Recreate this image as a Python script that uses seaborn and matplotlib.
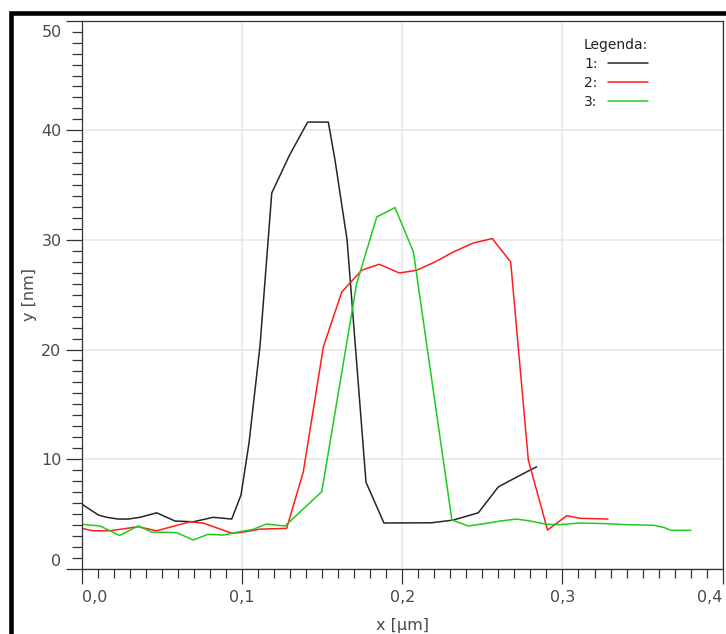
import matplotlib
matplotlib.use("Agg")
import numpy as np
import pandas as pd
import seaborn as sns
import matplotlib.pyplot as plt
from matplotlib.ticker import MultipleLocator
from matplotlib.lines import Line2D
from matplotlib.patches import Rectangle
import matplotlib.transforms as mtransforms

# ---------------- data ----------------
series_names = ["1:", "2:", "3:"]
series_colors = ["#262626", "#ff1c1c", "#1ecb1e"]

x1 = [0.0, 0.0104, 0.0156, 0.0228, 0.0291, 0.0364, 0.0468, 0.0582, 0.0696, 0.0821,
      0.0936, 0.0994, 0.1044, 0.1113, 0.1186, 0.1296, 0.1410, 0.1539, 0.1581, 0.1656,
      0.1774, 0.1886, 0.2184, 0.2319, 0.2475, 0.2600, 0.2777, 0.2839]
y1 = [5.90, 4.90, 4.69, 4.53, 4.53, 4.69, 5.10, 4.35, 4.28, 4.69,
      4.53, 6.72, 11.46, 20.39, 34.28, 37.71, 40.75, 40.75, 37.26, 30.0,
      7.90, 4.17, 4.19, 4.44, 5.10, 7.47, 8.84, 9.30]

x2 = [0.0, 0.0072, 0.0177, 0.0353, 0.0468, 0.0676, 0.0759, 0.0936, 0.0988, 0.1113,
      0.1279, 0.1383, 0.1508, 0.1623, 0.1747, 0.1857, 0.1982, 0.2091, 0.2205, 0.2319,
      0.2444, 0.2562, 0.2677, 0.2787, 0.2907, 0.3027, 0.3110, 0.3284]
y2 = [3.68, 3.46, 3.46, 3.83, 3.46, 4.28, 4.16, 3.24, 3.29, 3.61,
      3.68, 8.84, 20.24, 25.25, 27.23, 27.78, 26.98, 27.23, 27.99, 28.90,
      29.72, 30.12, 27.99, 9.91, 3.53, 4.83, 4.60, 4.53]

x3 = [0.0, 0.0114, 0.0236, 0.0353, 0.0436, 0.0593, 0.0696, 0.0788, 0.0884, 0.0967,
      0.1071, 0.1113, 0.1154, 0.1269, 0.1498, 0.1716, 0.1841, 0.1955, 0.2070, 0.2310,
      0.2413, 0.2528, 0.2611, 0.2715, 0.2798, 0.2902, 0.2985, 0.3110, 0.3272, 0.3397,
      0.3573, 0.3636, 0.3677, 0.3802]
y3 = [4.05, 3.90, 3.03, 3.90, 3.35, 3.29, 2.62, 3.14, 3.07, 3.32,
      3.59, 3.85, 4.07, 3.90, 7.03, 26.02, 32.09, 32.95, 28.90, 4.44,
      3.90, 4.14, 4.35, 4.53, 4.35, 4.05, 4.02, 4.17, 4.11, 4.02,
      3.96, 3.75, 3.50, 3.50]

x_ticks = [0.0, 0.1, 0.2, 0.3, 0.4]
x_tick_labels = ["0,0", "0,1", "0,2", "0,3", "0,4"]
y_ticks = [0, 10, 20, 30, 40, 50]
y_tick_labels = ["0", "10", "20", "30", "40", "50"]

# ---------------- figure ----------------
sns.set_theme(style="white")
plt.rcParams["font.family"] = ["DejaVu Sans"]

W, H = 726, 634
fig = plt.figure(figsize=(W / 100, H / 100), dpi=100, facecolor="white")
L, R, T, B = 81.7, 722.7, 20.7, 568.7
ax = fig.add_axes([L / W, 1 - B / H, (R - L) / W, (B - T) / H])
ax.set_facecolor("white")

df = pd.concat([
    pd.DataFrame({"x": x1, "y": y1, "series": series_names[0]}),
    pd.DataFrame({"x": x2, "y": y2, "series": series_names[1]}),
    pd.DataFrame({"x": x3, "y": y3, "series": series_names[2]}),
], ignore_index=True)

sns.lineplot(data=df, x="x", y="y", hue="series",
             palette=dict(zip(series_names, series_colors)),
             estimator=None, sort=False, lw=1.1, ax=ax, legend=False)

ax.set_xlim(0, 0.4)
ax.set_ylim(0, 50)
ax.set_xticks(x_ticks)
ax.set_xticklabels(x_tick_labels)
ax.set_yticks(y_ticks)
ax.set_yticklabels(y_tick_labels)
ax.xaxis.set_minor_locator(MultipleLocator(0.01))
ax.yaxis.set_minor_locator(MultipleLocator(1))

spine_c = "#333333"
for s in ax.spines.values():
    s.set_visible(True)
    s.set_color(spine_c)
    s.set_linewidth(0.9)

ax.tick_params(axis="both", which="both", direction="out", color=spine_c,
               width=0.9, bottom=True, left=True, top=False, right=False)
ax.tick_params(axis="x", which="major", length=11, pad=4,
               labelsize=11.5, labelcolor="#4a4a4a")
ax.tick_params(axis="x", which="minor", length=6.5)
ax.tick_params(axis="y", which="major", length=11.5, pad=3,
               labelsize=11.5, labelcolor="#4a4a4a")
ax.tick_params(axis="y", which="minor", length=7)

ax.grid(True, which="major", color="#e6e6e6", lw=1.1)
ax.set_axisbelow(True)

ax.set_xlabel("x [µm]", fontsize=11.5, color="#4a4a4a")
ax.set_ylabel("y [nm]", fontsize=11.5, color="#4a4a4a")
ax.xaxis.set_label_coords(0.5, (B - 618) / (B - T))
ax.yaxis.set_label_coords((36.7 - L) / (R - L), 0.5)

# legend
handles = [Line2D([], [], color=c, lw=1.1) for c in series_colors]
leg = ax.legend(handles, series_names, title="Legenda:", loc="upper left",
                bbox_to_anchor=((584 - L) / (R - L), (B - 38) / (B - T)),
                frameon=False, markerfirst=False, handlelength=2.9,
                handletextpad=0.75, labelspacing=0.35, borderpad=0,
                borderaxespad=0, fontsize=10, title_fontsize=10,
                alignment="left")
for t in leg.get_texts():
    t.set_color("#222222")
leg.get_title().set_color("#222222")

# edge tick label alignment
fig.canvas.draw()
xl = ax.get_xticklabels()
xl[0].set_ha("left")
xl[-1].set_ha("right")
yl = ax.get_yticklabels()
yl[0].set_va("bottom")
yl[-1].set_va("top")
yl[-1].set_transform(yl[-1].get_transform() +
                     mtransforms.ScaledTranslation(0, -4 / 100, fig.dpi_scale_trans))

# thick outer frame (top and left visible)
fig.add_artist(Rectangle((10.5 / W, -0.05), 1.0, 1 - 12.5 / H + 0.05,
                         fill=False, lw=3.3, ec="black",
                         transform=fig.transFigure))

fig.savefig("out.png", dpi=100, facecolor="white")
